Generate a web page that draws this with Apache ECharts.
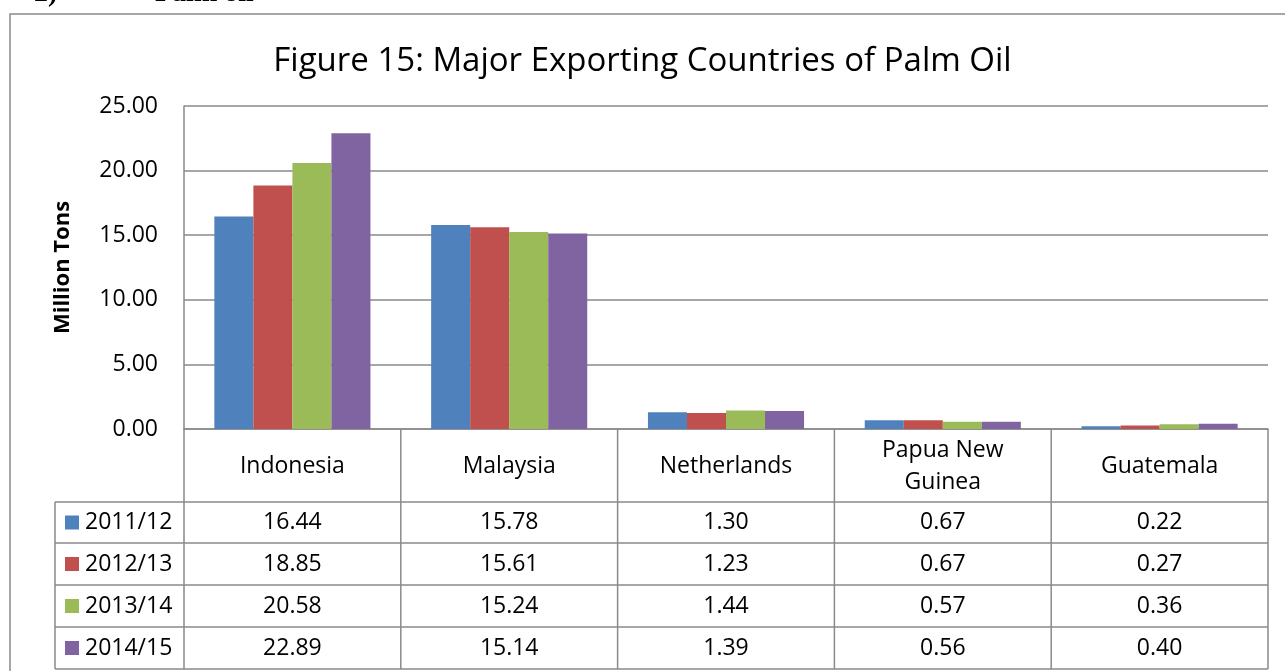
<!DOCTYPE html>
<html>
<head>
<meta charset="utf-8">
<script src="https://cdn.jsdelivr.net/npm/echarts@6/dist/echarts.min.js"></script>
<style>
html, body { margin: 0; padding: 0; background: #fff; }
#main { width: 1285px; height: 671px; }
</style>
</head>
<body>
<div id="main"></div>
<script>
var countries = ['Indonesia', 'Malaysia', 'Netherlands', 'Papua New\nGuinea', 'Guatemala'];
var seasons = ['2011/12', '2012/13', '2013/14', '2014/15'];
var v2011 = [16.44, 15.78, 1.30, 0.67, 0.22];
var v2012 = [18.85, 15.61, 1.23, 0.67, 0.27];
var v2013 = [20.58, 15.24, 1.44, 0.57, 0.36];
var v2014 = [22.89, 15.14, 1.39, 0.56, 0.40];
var yTicks = [0, 5, 10, 15, 20, 25];

var colors = ['#4F81BD', '#C0504D', '#9BBB59', '#8064A2'];
var lineColor = '#8a8a8a';
var font = '"Open Sans", Lato, sans-serif';
var fs = 23;
var values = [v2011, v2012, v2013, v2014];

var myChart = echarts.init(document.getElementById('main'));

var series = seasons.map(function (s, i) {
    return {
        name: s,
        type: 'bar',
        data: values[i],
        barGap: 0,
        barCategoryGap: '28%',
        itemStyle: { color: colors[i] },
        animation: false
    };
});

myChart.setOption({
    animation: false,
    textStyle: { fontFamily: font },
    title: {
        text: 'Figure 15: Major Exporting Countries of Palm Oil',
        left: 'center',
        top: 40,
        textStyle: { fontFamily: font, fontSize: 33, fontWeight: 'normal', color: '#000' }
    },
    grid: { left: 184, right: 17, top: 106, bottom: 242 },
    xAxis: {
        type: 'category',
        data: countries,
        axisLine: { lineStyle: { color: lineColor, width: 1.5 } },
        axisTick: { show: false },
        axisLabel: {
            interval: 0,
            margin: 37,
            verticalAlign: 'middle',
            lineHeight: 32,
            fontSize: fs,
            color: '#000',
            fontFamily: font
        }
    },
    yAxis: {
        type: 'value',
        min: yTicks[0],
        max: yTicks[yTicks.length - 1],
        interval: yTicks[1] - yTicks[0],
        name: 'Million Tons',
        nameLocation: 'middle',
        nameRotate: 90,
        nameGap: 110,
        nameTextStyle: { fontFamily: font, fontSize: 22, fontWeight: 'bold', color: '#000' },
        axisLine: { show: true, lineStyle: { color: lineColor, width: 1.5 } },
        axisTick: { show: false },
        axisLabel: {
            margin: 26,
            fontSize: fs,
            color: '#000',
            fontFamily: font,
            formatter: function (v) { return v.toFixed(2); }
        },
        splitLine: { lineStyle: { color: lineColor, width: 1.5 } }
    },
    series: series
});

// data table under the plot
var c0 = myChart.convertToPixel({ xAxisIndex: 0 }, 0);
var c1 = myChart.convertToPixel({ xAxisIndex: 0 }, 1);
var bw = c1 - c0;
var axisY = myChart.convertToPixel({ yAxisIndex: 0 }, 0);
var rows = [502, 543, 585, 627, 669];
var legendLeft = 55;
var xs = [];
for (var i = 0; i <= countries.length; i++) xs.push(c0 - bw / 2 + i * bw);

var g = [];
// outer chart border
g.push({
    type: 'rect', shape: { x: 10, y: 14, width: 1300, height: 700 },
    style: { fill: 'none', stroke: lineColor, lineWidth: 1.5 }, silent: true
});
// heading above chart, mostly cut off
g.push({ type: 'text', x: 34, y: 8, style: { text: '2)', font: 'bold 28px "Liberation Serif"', fill: '#000', textVerticalAlign: 'bottom' } });
g.push({ type: 'text', x: 155, y: 8, style: { text: 'Palm oil', font: 'bold 28px "Liberation Serif"', fill: '#000', textVerticalAlign: 'bottom' } });

xs.forEach(function (x) {
    g.push({ type: 'line', shape: { x1: x, y1: axisY, x2: x, y2: rows[rows.length - 1] },
        style: { stroke: lineColor, lineWidth: 1.5 } });
});
rows.forEach(function (y) {
    g.push({ type: 'line', shape: { x1: legendLeft, y1: y, x2: xs[xs.length - 1], y2: y },
        style: { stroke: lineColor, lineWidth: 1.5 } });
});
g.push({ type: 'line', shape: { x1: legendLeft, y1: rows[0], x2: legendLeft, y2: rows[rows.length - 1] },
    style: { stroke: lineColor, lineWidth: 1.5 } });

seasons.forEach(function (s, r) {
    var mid = (rows[r] + rows[r + 1]) / 2;
    g.push({ type: 'rect', shape: { x: 65, y: mid - 7, width: 14, height: 14 }, style: { fill: colors[r] } });
    g.push({ type: 'text', x: 85, y: mid, style: { text: s, font: fs + 'px ' + font, fill: '#000', textVerticalAlign: 'middle' } });
    values[r].forEach(function (v, i) {
        g.push({ type: 'text', x: c0 + i * bw, y: mid,
            style: { text: v.toFixed(2), font: fs + 'px ' + font, fill: '#000', textAlign: 'center', textVerticalAlign: 'middle' } });
    });
});

myChart.setOption({ graphic: g });
</script>
</body>
</html>
